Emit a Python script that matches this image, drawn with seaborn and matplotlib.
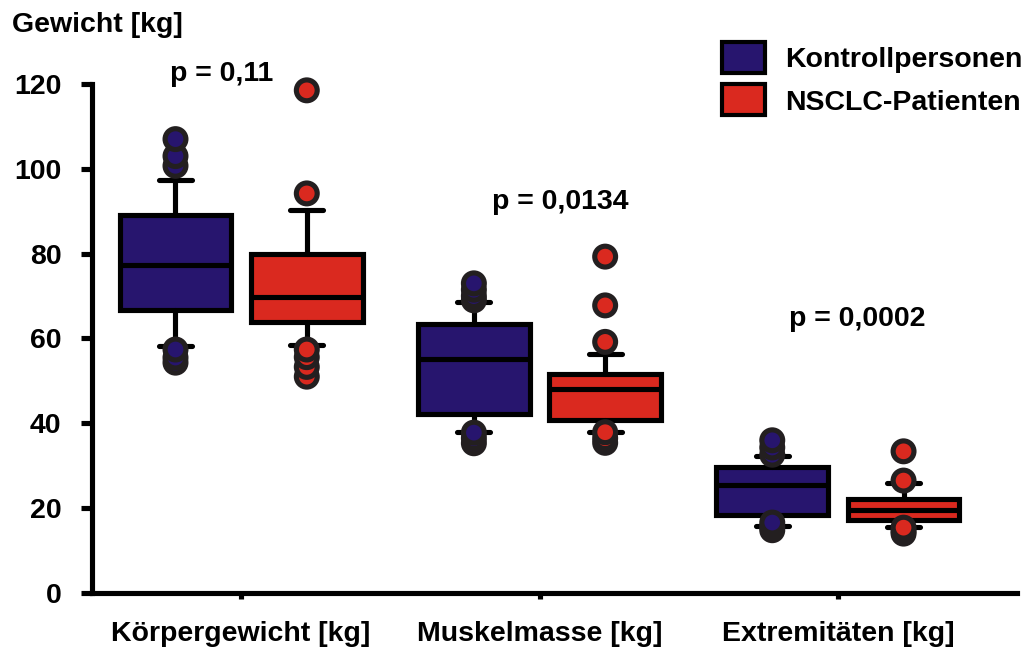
import numpy as np
import pandas as pd
import matplotlib
matplotlib.use("Agg")
import matplotlib.pyplot as plt
from matplotlib.patches import Patch
import seaborn as sns

# ---- data -------------------------------------------------------------
categories = ["Körpergewicht [kg]", "Muskelmasse [kg]", "Extremitäten [kg]"]
groups = ["Kontrollpersonen", "NSCLC-Patienten"]
p_labels = ["p = 0,11", "p = 0,0134", "p = 0,0002"]
p_label_y = [122.3, 92.1, 64.5]

# box summaries per category: lower whisker, Q1, median, Q3, upper whisker
kontroll_whislo = [58.3, 37.9, 15.8]
kontroll_q1 = [66.7, 42.2, 18.4]
kontroll_med = [77.4, 55.2, 25.4]
kontroll_q3 = [89.1, 63.3, 29.7]
kontroll_whishi = [97.4, 68.5, 32.2]

nsclc_whislo = [58.4, 37.9, 15.5]
nsclc_q1 = [63.9, 40.9, 17.1]
nsclc_med = [69.8, 48.1, 19.6]
nsclc_q3 = [80.0, 51.7, 22.1]
nsclc_whishi = [90.3, 56.3, 25.9]

# single values outside the whiskers
kontroll_outliers = [
    [107.0, 103.0, 100.7, 57.4, 55.5, 54.3],
    [73.0, 71.5, 70.0, 69.0, 37.8, 36.5, 35.3],
    [36.0, 34.3, 32.6, 16.6, 15.6, 14.8],
]
nsclc_outliers = [
    [118.5, 94.2, 57.4, 55.6, 53.3, 51.0],
    [79.3, 67.8, 59.2, 37.9, 36.5, 35.4],
    [33.4, 26.5, 15.4, 14.6, 14.0],
]

# ---- style ------------------------------------------------------------
sns.set_theme(style="ticks")
plt.rcParams["font.family"] = ["Liberation Sans", "DejaVu Sans"]
plt.rcParams["font.weight"] = "bold"
plt.rcParams["text.color"] = "black"

colors = {"Kontrollpersonen": "#27156e", "NSCLC-Patienten": "#da291f"}
edge_dark = "#231f20"
fs = 20.5
lw = 3.7
offset = 0.22
box_w = 0.375

fig = plt.figure(figsize=(10.32, 6.49), dpi=100)
ax = fig.add_axes([0.0891, 0.0863, 0.8963, 0.7843])

summaries = {
    "Kontrollpersonen": (kontroll_whislo, kontroll_q1, kontroll_med, kontroll_q3, kontroll_whishi),
    "NSCLC-Patienten": (nsclc_whislo, nsclc_q1, nsclc_med, nsclc_q3, nsclc_whishi),
}
outliers = {"Kontrollpersonen": kontroll_outliers, "NSCLC-Patienten": nsclc_outliers}

rows = []
for gi, grp in enumerate(groups):
    shift = -offset if gi == 0 else offset
    lo, q1, med, q3, hi = summaries[grp]
    stats = [
        dict(whislo=lo[i], q1=q1[i], med=med[i], q3=q3[i], whishi=hi[i], fliers=[])
        for i in range(len(categories))
    ]
    pos = [i + shift for i in range(len(categories))]
    ax.bxp(
        stats, positions=pos, widths=box_w, capwidths=0.11,
        patch_artist=True, showfliers=False,
        boxprops=dict(facecolor=colors[grp], edgecolor="black", linewidth=lw),
        medianprops=dict(color="black", linewidth=lw),
        whiskerprops=dict(color="black", linewidth=lw),
        capprops=dict(color="black", linewidth=lw),
        manage_ticks=False, zorder=2,
    )
    for i, vals in enumerate(outliers[grp]):
        for v in vals:
            rows.append({"x": i + shift, "Gewicht": v, "Gruppe": grp})

# higher values are drawn last so they sit on top of the stacked circles
out_df = pd.DataFrame(rows).sort_values("Gewicht", kind="stable")
sns.scatterplot(
    data=out_df, x="x", y="Gewicht", hue="Gruppe", palette=colors,
    s=225, edgecolor=edge_dark, linewidth=3.7, legend=False,
    ax=ax, zorder=4, clip_on=False,
)

# ---- axes -------------------------------------------------------------
ax.set_xlim(-0.5, 2.6)
ax.set_ylim(0, 120)
ax.set_yticks(np.arange(0, 121, 20))
ax.set_xticks(range(len(categories)))
ax.set_xticklabels(categories, fontsize=fs, fontweight="bold")
for lab in ax.get_yticklabels():
    lab.set_fontsize(fs)
    lab.set_fontweight("bold")
ax.set_xlabel("")
ax.set_ylabel("")
sns.despine(ax=ax)
for side in ("left", "bottom"):
    ax.spines[side].set_linewidth(lw)
    ax.spines[side].set_color("black")
ax.tick_params(axis="y", length=8, width=lw, pad=14, colors="black")
ax.tick_params(axis="x", length=4, width=lw, pad=16, colors="black")
ax.set_facecolor("white")
fig.patch.set_facecolor("white")

p_x = [-0.065, 1.07, 2.065]
for x, y, txt in zip(p_x, p_label_y, p_labels):
    ax.text(x, y, txt, ha="center", va="center", fontsize=fs,
            fontweight="bold", color="black", clip_on=False)

fig.text(12 / 1032, 1 - 25 / 649, "Gewicht [kg]", ha="left", va="center",
         fontsize=fs, fontweight="bold", color="black")

handles = [Patch(facecolor=colors[g], edgecolor="black", linewidth=3) for g in groups]
leg = fig.legend(
    handles, groups, loc="upper left",
    bbox_to_anchor=(722 / 1032, 1 - 42 / 649), bbox_transform=fig.transFigure,
    frameon=False, borderpad=0, borderaxespad=0,
    handlelength=1.5, handleheight=1.3, handletextpad=0.7, labelspacing=0.4,
    prop=dict(size=fs, weight="bold"),
)
for t in leg.get_texts():
    t.set_color("black")

fig.savefig("out.png", dpi=100, facecolor="white")
